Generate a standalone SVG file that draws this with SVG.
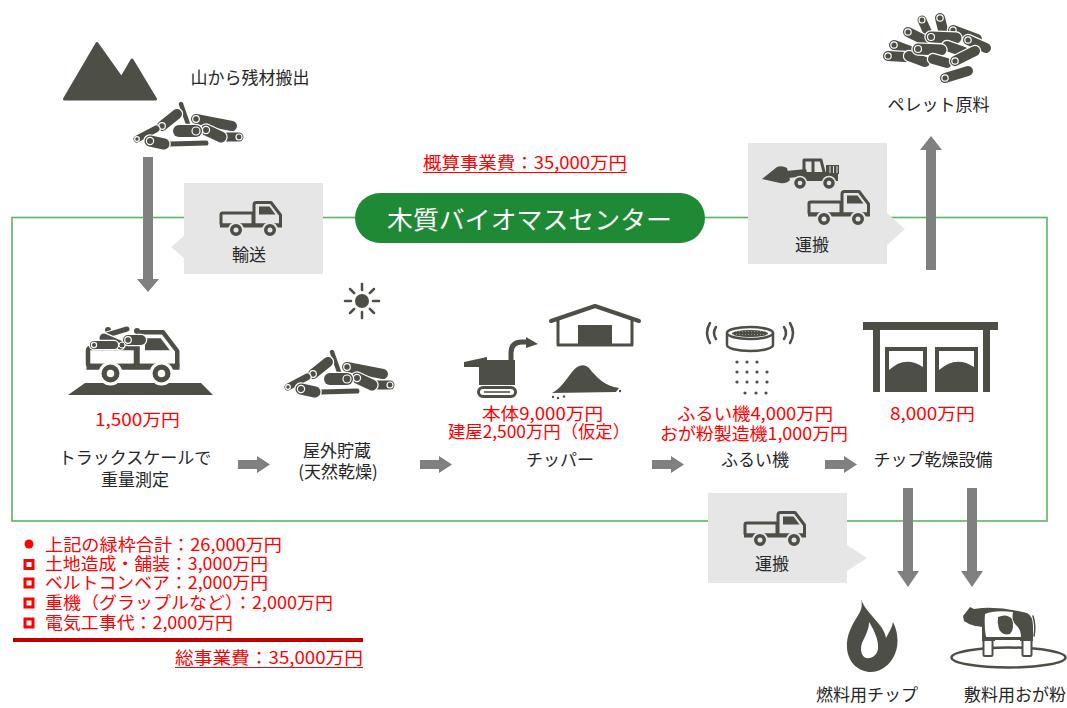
<svg xmlns="http://www.w3.org/2000/svg" width="1067" height="708" viewBox="0 0 1067 708">
<style>
  .t{font-family:"Noto Sans CJK JP","Noto Sans",sans-serif;font-size:17px;fill:#262626;text-anchor:middle}
  .red{fill:#ff0000}
  .st{text-anchor:start}
  .dk{fill:#4d4e46}
  .ln{fill:none;stroke:#4d4e46;stroke-linecap:round;stroke-linejoin:round}
  .lw{stroke:#fff;stroke-linecap:round}
  .ld{stroke:#4d4e46;stroke-linecap:round}
  .le{fill:none;stroke:#fff;stroke-width:1.2}
  .arr{fill:#808080}
  .box{fill:#e6e6e6}
  .sq{fill:#fff;stroke:#ff0000;stroke-width:3}
</style>
<defs>
  <pattern id="mesh" width="3" height="3" patternUnits="userSpaceOnUse">
    <rect width="3" height="3" fill="#4d4e46"/>
    <circle cx="1.5" cy="1.5" r="0.6" fill="#a0a09a"/>
  </pattern>
  <!-- small pickup truck, 64 x 37 -->
  <g id="truck">
    <rect x="2" y="12" width="32" height="12" rx="1.5" fill="none" stroke="#4d4e46" stroke-width="3"/>
    <path d="M35,24 V4 Q35,1.5 37.5,1.5 H52 L61.5,14 V24 Z" fill="none" stroke="#4d4e46" stroke-width="3" stroke-linejoin="round"/>
    <path d="M40,5.5 H50.5 L56.5,13.5 H40 Z" fill="#4d4e46" stroke="none"/>
    <rect x="1" y="22.5" width="62" height="4" fill="#4d4e46" stroke="none"/>
    <circle cx="17" cy="29" r="7" fill="#4d4e46" stroke-width="2"/>
    <circle cx="51" cy="29" r="7" fill="#4d4e46" stroke-width="2"/>
    <circle cx="17" cy="29" r="2.5" stroke="none"/>
    <circle cx="51" cy="29" r="2.5" stroke="none"/>
  </g>
  <!-- pile of logs, about 111 x 46 -->
  <g id="pile">
    <line class="lw" x1="49" y1="2" x2="56" y2="22" stroke-width="6.9"/><line class="ld" x1="49" y1="2" x2="56" y2="22" stroke-width="4.4"/>
    <line class="lw" x1="64" y1="17" x2="100" y2="24" stroke-width="12.5"/><line class="ld" x1="64" y1="17" x2="100" y2="24" stroke-width="10"/><circle class="le" cx="64" cy="17" r="3.3"/>
    <line class="lw" x1="30" y1="24" x2="45" y2="12" stroke-width="12.5"/><line class="ld" x1="30" y1="24" x2="45" y2="12" stroke-width="10"/><circle class="le" cx="30" cy="24" r="3.3"/>
    <line class="lw" x1="5" y1="37" x2="24" y2="27" stroke-width="9.5"/><line class="ld" x1="5" y1="37" x2="24" y2="27" stroke-width="7"/><circle class="le" cx="5" cy="37" r="2.3"/>
    <line class="lw" x1="107" y1="35" x2="90" y2="35" stroke-width="11.5"/><line class="ld" x1="107" y1="35" x2="90" y2="35" stroke-width="9"/><circle class="le" cx="107" cy="35" r="3"/>
    <line class="lw" x1="74" y1="28" x2="89" y2="35" stroke-width="13.5"/><line class="ld" x1="74" y1="28" x2="89" y2="35" stroke-width="11"/><circle class="le" cx="74" cy="28" r="3.6"/>
    <line class="lw" x1="38" y1="42" x2="74" y2="41" stroke-width="7.5"/><line class="ld" x1="38" y1="42" x2="74" y2="41" stroke-width="5"/>
    <line class="lw" x1="64" y1="29" x2="47" y2="29" stroke-width="14.5"/><line class="ld" x1="64" y1="29" x2="47" y2="29" stroke-width="12"/><circle class="le" cx="64" cy="29" r="4"/>
    <line class="lw" x1="18" y1="39" x2="32" y2="42" stroke-width="13.5"/><line class="ld" x1="18" y1="39" x2="32" y2="42" stroke-width="11"/><circle class="le" cx="18" cy="39" r="3.6"/>
  </g>
</defs>

<rect width="1067" height="708" fill="#ffffff"/>

<!-- green frame of the biomass centre -->
<rect id="frame" x="12" y="217.5" width="1035" height="303.5" fill="none" stroke="#5ab463" stroke-width="1.6"/>

<!-- connectors -->
<g id="connectors" class="arr">
  <path d="M143,157 H153 V279 H159 L148,292 L137,279 H143 Z"/>
  <path d="M926,270 V150 H920 L931,136 L942,150 H936 V270 Z"/>
  <path d="M903,488 H913 V571 H919 L908,587 L897,571 H903 Z"/>
  <path d="M967,488 H977 V571 H983 L972,587 L961,571 H967 Z"/>
  <path d="M238,460 H257 V456 L270,464.5 L257,473 V469 H238 Z"/>
  <path d="M420,460 H439 V456 L452,464.5 L439,473 V469 H420 Z"/>
  <path d="M652,460 H671 V456 L684,464.5 L671,473 V469 H652 Z"/>
  <path d="M825,460 H844 V456 L857,464.5 L844,473 V469 H825 Z"/>
</g>

<!-- title pill and overall estimate -->
<g id="node-center">
  <rect x="355" y="193" width="350" height="50" rx="25" fill="#1f8a36"/>
  <text class="t" x="529.5" y="229" style="font-size:25px;fill:#fff" textLength="285" lengthAdjust="spacingAndGlyphs">木質バイオマスセンター</text>
</g>
<g id="node-estimate">
  <text class="t red st" x="423" y="169" textLength="204" lengthAdjust="spacingAndGlyphs">概算事業費：35,000万円</text>
  <line x1="423" y1="172.5" x2="627" y2="172.5" stroke="#ff0000" stroke-width="1"/>
</g>

<!-- mountain and logs -->
<g id="node-mountain">
  <polygon class="dk" points="64.5,99 97,43.5 121.5,78 132,60 155.5,99" stroke="#4d4e46" stroke-width="3" stroke-linejoin="round"/>
  <use href="#pile" x="132" y="102"/>
  <text class="t" x="250" y="84">山から残材搬出</text>
</g>

<!-- transport callout -->
<g id="node-transport">
  <path class="box" d="M184,183 H323 V274 H184 V258 L171,247 L184,236 Z"/>
  <use href="#truck" x="219" y="201" fill="#e6e6e6" stroke="#e6e6e6"/>
  <text class="t" x="249" y="261">輸送</text>
</g>

<!-- truck scale -->
<g id="node-truckscale">
  <polygon class="dk" points="85,383 201,383 213,395 68,395"/>
  <use href="#truck" transform="translate(85,330) scale(1.5)" fill="#fff" stroke="#fff"/>
  <circle class="dk" cx="108" cy="330" r="3"/>
  <circle class="dk" cx="137" cy="331" r="3"/>
  <line class="lw" x1="107" y1="335" x2="127" y2="329" stroke-width="7.5"/><line class="ld" x1="107" y1="335" x2="127" y2="329" stroke-width="5"/>
  <line class="lw" x1="104" y1="338" x2="120" y2="345" stroke-width="11.5"/><line class="ld" x1="104" y1="338" x2="120" y2="345" stroke-width="9"/>
  <line class="lw" x1="94" y1="345" x2="114" y2="345" stroke-width="10.5"/><line class="ld" x1="94" y1="345" x2="114" y2="345" stroke-width="8"/><circle class="le" cx="94" cy="345" r="2.6"/>
  <line class="lw" x1="128" y1="340" x2="141" y2="340" stroke-width="12.5"/><line class="ld" x1="128" y1="340" x2="141" y2="340" stroke-width="10"/><circle class="le" cx="128" cy="340" r="3.3"/>
  <circle class="dk" cx="122" cy="345" r="3" stroke="#fff" stroke-width="1"/>
  <text class="t red" x="137.5" y="426" textLength="85" lengthAdjust="spacingAndGlyphs">1,500万円</text>
  <text class="t" x="135" y="464">トラックスケールで</text>
  <text class="t" x="135" y="486">重量測定</text>
</g>

<!-- outdoor storage -->
<g id="node-storage">
  <circle class="dk" cx="362" cy="301" r="7"/>
  <g class="ln" stroke-width="2.5">
    <line x1="373" y1="301" x2="379" y2="301"/><line x1="345" y1="301" x2="351" y2="301"/>
    <line x1="362" y1="290" x2="362" y2="284"/><line x1="362" y1="312" x2="362" y2="318"/>
    <line x1="369.8" y1="293.2" x2="374" y2="289"/><line x1="354.2" y1="293.2" x2="350" y2="289"/>
    <line x1="369.8" y1="308.8" x2="374" y2="313"/><line x1="354.2" y1="308.8" x2="350" y2="313"/>
  </g>
  <use href="#pile" x="283" y="350"/>
  <text class="t" x="337" y="457">屋外貯蔵</text>
  <text class="t" x="338" y="478">(天然乾燥)</text>
</g>

<!-- chipper -->
<g id="node-chipper">
  <path class="ln" stroke-width="4" d="M551,321 L595,306 L639,321"/>
  <path class="ln" stroke-width="3" d="M558,320 V345 H632 V320"/>
  <rect class="dk" x="578" y="325" width="34" height="20"/>
  <path class="dk" d="M552,393 C560,389 566,380 572,372 C577,365 584,363 589,368 C597,378 605,386 619,388 L616,392 Z"/>
  <circle class="dk" cx="553" cy="397" r="1.2"/><circle class="dk" cx="558" cy="398" r="1.2"/><circle class="dk" cx="564" cy="396.5" r="1.2"/><circle class="dk" cx="620" cy="391" r="1.2"/>
  <polygon class="dk" points="464,362 487,357 487,367 464,367"/>
  <rect class="dk" x="479" y="360" width="36" height="25"/>
  <path class="ln" stroke-width="5" stroke-linecap="butt" d="M511,360 V353 Q511,342 522,342 H528"/>
  <polygon class="dk" points="526,337 538,344 526,348"/>
  <rect x="478.5" y="387.5" width="37" height="9" rx="4.5" fill="none" stroke="#4d4e46" stroke-width="3"/>
  <line x1="484" y1="392" x2="510" y2="392" stroke="#4d4e46" stroke-width="1.5"/>
  <text class="t red" x="542.5" y="420" textLength="121" lengthAdjust="spacingAndGlyphs">本体9,000万円</text>
  <text class="t red" x="539" y="438" textLength="182" lengthAdjust="spacingAndGlyphs">建屋2,500万円（仮定）</text>
  <text class="t" x="560" y="466">チッパー</text>
</g>

<!-- sieve -->
<g id="node-sieve">
  <path class="ln" stroke-width="2.5" d="M716,327 Q712,333 716,339"/>
  <path class="ln" stroke-width="2.5" d="M710,323 Q704,333 710,343"/>
  <path class="ln" stroke-width="2.5" d="M784,327 Q788,333 784,339"/>
  <path class="ln" stroke-width="2.5" d="M790,323 Q796,333 790,343"/>
  <path class="ln" stroke-width="2.5" d="M727,333 V345 A23,6 0 0 0 773,345 V333"/>
  <ellipse cx="750" cy="333" rx="23" ry="6" fill="#fff" stroke="#4d4e46" stroke-width="2.5"/>
  <ellipse cx="750" cy="333.5" rx="18" ry="3.6" fill="url(#mesh)"/>
  <g class="dk">
    <circle cx="737" cy="362" r="1.6"/><circle cx="747" cy="362" r="1.6"/><circle cx="757" cy="362" r="1.6"/>
    <circle cx="737" cy="372" r="1.6"/><circle cx="747" cy="372" r="1.6"/><circle cx="757" cy="372" r="1.6"/><circle cx="767" cy="372" r="1.6"/>
    <circle cx="737" cy="382" r="1.6"/><circle cx="747" cy="382" r="1.6"/><circle cx="757" cy="382" r="1.6"/><circle cx="767" cy="382" r="1.6"/>
    <circle cx="745" cy="393" r="1.6"/><circle cx="756" cy="393" r="1.6"/><circle cx="766" cy="393" r="1.6"/>
  </g>
  <text class="t red" x="755" y="420" textLength="156" lengthAdjust="spacingAndGlyphs">ふるい機4,000万円</text>
  <text class="t red" x="754" y="440" textLength="188" lengthAdjust="spacingAndGlyphs">おが粉製造機1,000万円</text>
  <text class="t" x="755" y="466">ふるい機</text>
</g>

<!-- chip drying facility -->
<g id="node-dryer">
  <rect class="dk" x="863" y="322" width="135" height="8"/>
  <rect class="dk" x="873" y="329" width="7" height="63"/>
  <rect class="dk" x="983" y="329" width="7" height="63"/>
  <rect x="887" y="349" width="38" height="41" fill="none" stroke="#4d4e46" stroke-width="4"/>
  <path class="dk" d="M889,370 Q905,355 923,367 V390 H889 Z"/>
  <rect x="937" y="349" width="39" height="41" fill="none" stroke="#4d4e46" stroke-width="4"/>
  <path class="dk" d="M939,370 Q956,355 974,367 V390 H939 Z"/>
  <text class="t red" x="932.5" y="420" textLength="85" lengthAdjust="spacingAndGlyphs">8,000万円</text>
  <text class="t" x="933" y="466">チップ乾燥設備</text>
</g>

<!-- haulage callout, top -->
<g id="node-haul-top">
  <path class="box" d="M748,143 H887 V213 L905,229 L887,245 V264 H748 Z"/>
  <path class="dk" d="M762,179 L777,167 Q782,165 787,168 L790,180 Q786,184 780,183 Z"/>
  <path class="dk" d="M786,171 L806,169 L808,176 L788,178 Z"/>
  <path class="ln" stroke-width="3" d="M804,172 V160 H821 L824,172"/>
  <line x1="813" y1="160" x2="813" y2="172" stroke="#4d4e46" stroke-width="3"/>
  <rect class="dk" x="796" y="172" width="42" height="9"/>
  <rect class="dk" x="826" y="165" width="13" height="9"/>
  <g stroke="#e6e6e6" stroke-width="1"><line x1="830" y1="166" x2="830" y2="173"/><line x1="833.5" y1="166" x2="833.5" y2="173"/><line x1="837" y1="166" x2="837" y2="173"/></g>
  <circle class="dk" cx="800" cy="183" r="6.5" stroke="#e6e6e6" stroke-width="1.5"/>
  <circle class="dk" cx="829" cy="183" r="6.5" stroke="#e6e6e6" stroke-width="1.5"/>
  <circle cx="800" cy="183" r="2.3" fill="#e6e6e6"/>
  <circle cx="829" cy="183" r="2.3" fill="#e6e6e6"/>
  <use href="#truck" x="807" y="190" fill="#e6e6e6" stroke="#e6e6e6"/>
  <text class="t" x="812" y="251">運搬</text>
</g>

<!-- pellet raw material -->
<g id="node-pellet">
  <line class="lw" x1="922" y1="20" x2="927" y2="31" stroke-width="11.5"/><line class="ld" x1="922" y1="20" x2="927" y2="31" stroke-width="9"/><circle class="le" cx="922" cy="20" r="3"/>
  <line class="lw" x1="940" y1="18" x2="944" y2="34" stroke-width="12.5"/><line class="ld" x1="940" y1="18" x2="944" y2="34" stroke-width="10"/><circle class="le" cx="940" cy="18" r="3.2"/>
  <line class="lw" x1="953" y1="30" x2="977" y2="39" stroke-width="12.5"/><line class="ld" x1="953" y1="30" x2="977" y2="39" stroke-width="10"/><circle class="le" cx="953" cy="30" r="3.2"/>
  <line class="lw" x1="908" y1="32" x2="924" y2="40" stroke-width="12.5"/><line class="ld" x1="908" y1="32" x2="924" y2="40" stroke-width="10"/><circle class="le" cx="908" cy="32" r="3.2"/>
  <line class="lw" x1="968" y1="40" x2="986" y2="48" stroke-width="12.5"/><line class="ld" x1="968" y1="40" x2="986" y2="48" stroke-width="10"/><circle class="le" cx="968" cy="40" r="3.2"/>
  <line class="lw" x1="931" y1="37" x2="956" y2="38" stroke-width="13.5"/><line class="ld" x1="931" y1="37" x2="956" y2="38" stroke-width="11"/><circle class="le" cx="931" cy="37" r="3.5"/>
  <line class="lw" x1="894" y1="45" x2="910" y2="51" stroke-width="12.5"/><line class="ld" x1="894" y1="45" x2="910" y2="51" stroke-width="10"/><circle class="le" cx="894" cy="45" r="3.2"/>
  <line class="lw" x1="947" y1="46" x2="964" y2="52" stroke-width="12.5"/><line class="ld" x1="947" y1="46" x2="964" y2="52" stroke-width="10"/>
  <line class="lw" x1="888" y1="56" x2="905" y2="57" stroke-width="12.5"/><line class="ld" x1="888" y1="56" x2="905" y2="57" stroke-width="10"/><circle class="le" cx="888" cy="56" r="3.2"/>
  <line class="lw" x1="909" y1="56" x2="925" y2="62" stroke-width="12.5"/><line class="ld" x1="909" y1="56" x2="925" y2="62" stroke-width="10"/>
  <line class="lw" x1="918" y1="49" x2="941" y2="50" stroke-width="13.5"/><line class="ld" x1="918" y1="49" x2="941" y2="50" stroke-width="11"/><circle class="le" cx="918" cy="49" r="3.5"/>
  <line class="lw" x1="933" y1="59" x2="947" y2="63" stroke-width="12.5"/><line class="ld" x1="933" y1="59" x2="947" y2="63" stroke-width="10"/>
  <line class="lw" x1="955" y1="61" x2="975" y2="51" stroke-width="12.5"/><line class="ld" x1="955" y1="61" x2="975" y2="51" stroke-width="10"/><circle class="le" cx="955" cy="61" r="3.2"/>
  <line class="lw" x1="945" y1="78" x2="968" y2="71" stroke-width="12.5"/><line class="ld" x1="945" y1="78" x2="968" y2="71" stroke-width="10"/><circle class="le" cx="945" cy="78" r="3.2"/>
  <text class="t" x="938.5" y="111">ペレット原料</text>
</g>

<!-- haulage callout, bottom -->
<g id="node-haul-bottom">
  <path class="box" d="M708,493 H847 V545 L867,558 L847,571 V583 H708 Z"/>
  <use href="#truck" x="743" y="511" fill="#e6e6e6" stroke="#e6e6e6"/>
  <text class="t" x="772" y="570">運搬</text>
</g>

<!-- fuel chips -->
<g id="node-fuel">
  <path class="dk" d="M861,599 C866,614 884,624 886,638 C889,632 892,628 893,622 C899,634 899,648 893,658 C887,668 878,672 871,672 C859,672 848,663 847,648 C846,634 853,624 857,617 C861,611 863,606 861,599 Z"/>
  <path fill="#fff" d="M869,622 C874,630 879,640 878,649 C877,655 872,659 866,658 C861,656 860,649 862,643 C865,636 869,630 869,622 Z"/>
  <text class="t" x="867" y="701">燃料用チップ</text>
</g>

<!-- bedding sawdust -->
<g id="node-bedding">
  <ellipse cx="1008.5" cy="657.5" rx="57" ry="10" fill="none" stroke="#4d4e46" stroke-width="2.5"/>
  <rect x="983.5" y="636" width="9" height="20" rx="1.5" fill="#fff" stroke="#4d4e46" stroke-width="2"/>
  <rect x="1022.5" y="636" width="9" height="20" rx="1.5" fill="#fff" stroke="#4d4e46" stroke-width="2"/>
  <path class="dk" d="M963,616 L967,611 L970,607 L974,609 L982,608 Q1004,607 1027,613 Q1033,616 1033,626 L1033,641 L1020,641 L1020,640 L995,640 L995,641 L982,641 L982,627 Q978,626 975,626 Q968,624 964,621 Z"/>
  <path fill="#fff" d="M985,614 Q994,610 1013,612 Q1011,621 1017,626 Q1021,630 1021,637 L986,637 Q984,626 985,614 Z"/>
  <path class="dk" d="M998,617 Q1007,613 1012,619 Q1015,628 1010,634 Q1002,636 999,629 Q997,623 998,617 Z"/>
  <path class="ln" stroke-width="1.5" d="M1033,616 Q1036,626 1034,636"/>
  <text class="t" x="1015" y="701">敷料用おが粉</text>
</g>

<!-- cost breakdown -->
<g id="node-costs">
  <circle cx="29" cy="544" r="4.5" fill="#ff0000"/>
  <rect class="sq" x="25" y="560.5" width="8" height="8"/>
  <rect class="sq" x="25" y="579" width="8" height="8"/>
  <rect class="sq" x="25" y="599" width="8" height="8"/>
  <rect class="sq" x="25" y="619" width="8" height="8"/>
  <g style="font-size:16.5px">
    <text class="t red st" x="45" y="551" textLength="237" lengthAdjust="spacingAndGlyphs">上記の緑枠合計：26,000万円</text>
    <text class="t red st" x="45" y="570" textLength="223" lengthAdjust="spacingAndGlyphs">土地造成・舗装：3,000万円</text>
    <text class="t red st" x="45" y="589" textLength="223" lengthAdjust="spacingAndGlyphs">ベルトコンベア：2,000万円</text>
    <text class="t red st" x="45" y="609" textLength="288" lengthAdjust="spacingAndGlyphs">重機（グラップルなど）：2,000万円</text>
    <text class="t red st" x="45" y="629" textLength="188" lengthAdjust="spacingAndGlyphs">電気工事代：2,000万円</text>
  </g>
  <line x1="13" y1="640" x2="363" y2="640" stroke="#c00000" stroke-width="4"/>
  <text class="t red st" x="175" y="664" textLength="188" lengthAdjust="spacingAndGlyphs">総事業費：35,000万円</text>
  <line x1="175" y1="667.5" x2="363" y2="667.5" stroke="#ff0000" stroke-width="1"/>
</g>
</svg>
